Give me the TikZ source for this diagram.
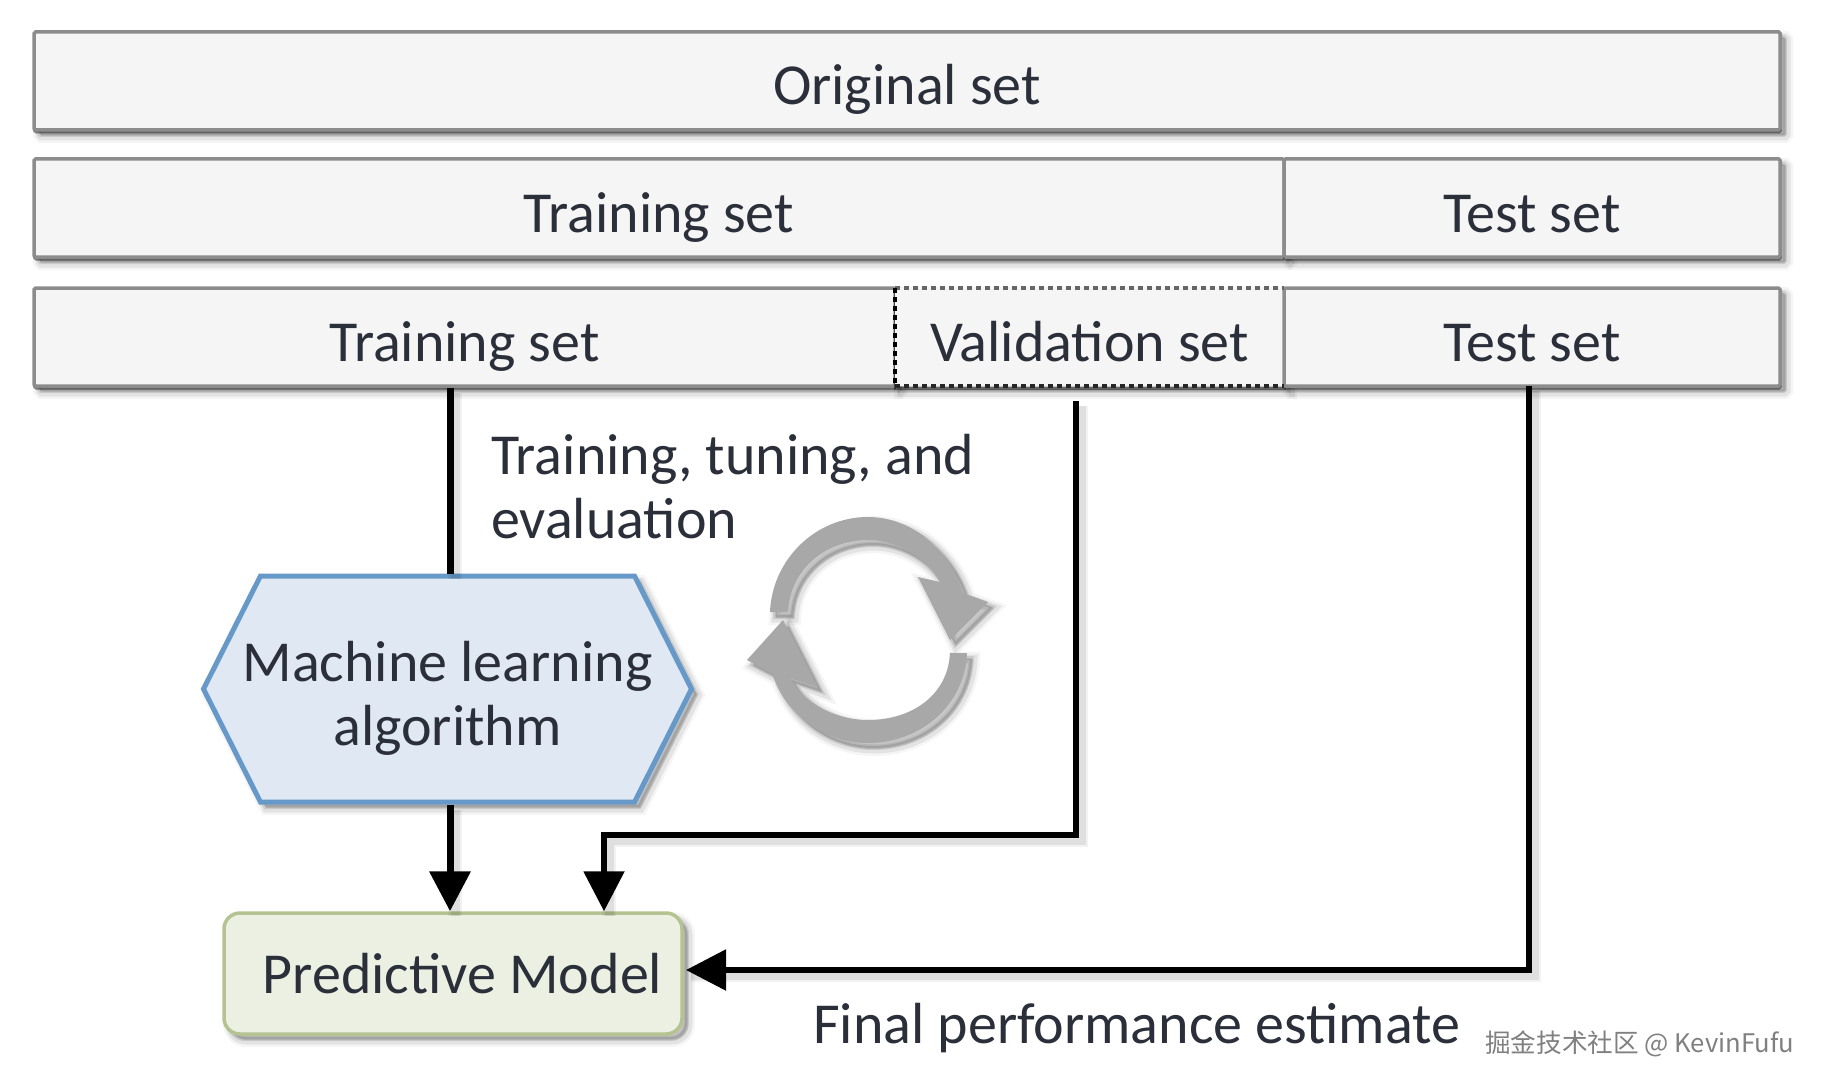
\documentclass[tikz,border=0pt]{standalone}
\usepackage{fontspec}
\setmainfont{Carlito}
\newfontfamily\cjkwm{Noto Sans CJK SC}
\usetikzlibrary{shapes.symbols,arrows.meta}
\definecolor{boxfill}{HTML}{F5F5F5}
\definecolor{boxline}{HTML}{8C8C8C}
\definecolor{txt}{HTML}{2B2F3A}
\definecolor{hexfill}{HTML}{E0E8F3}
\definecolor{hexline}{HTML}{6699C8}
\definecolor{modfill}{HTML}{EBF0E2}
\definecolor{modline}{HTML}{B4C391}
\definecolor{cyc}{HTML}{A8A8A8}
\tikzset{
  x=1pt,y=-1pt,
  softshadow/.style={
    preaction={fill=black,draw=black,opacity=.04,line width=14pt,transform canvas={shift={(6pt,-6pt)}}},
    preaction={fill=black,draw=black,opacity=.07,line width=9pt,transform canvas={shift={(6pt,-6pt)}}},
    preaction={fill=black,draw=black,opacity=.10,line width=4pt,transform canvas={shift={(5pt,-5pt)}}}},
  cellshadow/.style={softshadow,
    preaction={draw=black,opacity=.45,line width=3pt,transform canvas={shift={(.5pt,-2pt)}}}},
  linkshadow/.style={
    preaction={draw=black,opacity=.05,line width=14pt,-,transform canvas={shift={(5pt,-5pt)}}},
    preaction={draw=black,opacity=.08,line width=9pt,-,transform canvas={shift={(5pt,-5pt)}}}},
  cell/.style={rectangle,draw=boxline,fill=boxfill,line width=3.5pt,rounded corners=1.5pt,inner sep=0pt,
    minimum height=98pt,text=txt,font=\fontsize{58}{58}\selectfont,text height=60pt,text depth=12pt},
  hexa/.style={signal,signal to=east and west,signal pointer angle=126.5,draw=hexline,fill=hexfill,line width=5pt,
    inner sep=0pt,minimum width=488pt,minimum height=226pt,text=txt,align=center,
    font=\fontsize{58}{64}\selectfont},
  model/.style={rectangle,rounded corners=16pt,draw=modline,fill=modfill,line width=3.5pt,inner sep=0pt,
    minimum width=458pt,minimum height=121pt,text=txt,font=\fontsize{58}{58}\selectfont,text height=52pt,text depth=12pt},
  plain/.style={inner sep=0pt,text=txt,align=left,font=\fontsize{58}{64}\selectfont},
  link/.style={draw=black,line width=5.5pt,line join=miter},
  thicklink/.style={link,line width=7pt},
  tip/.style={-{Triangle[length=40pt,width=40pt]}},
  dotedge/.style={line width=3.5pt,dash pattern=on 5pt off 4pt},
  cyclearrow/.style={fill=cyc,draw=none}
}
\begin{document}
\begin{tikzpicture}
\useasboundingbox (0,0) rectangle (1822,1086);
\fill[white] (0,0) rectangle (1822,1086);

% row 1
\node[cell,cellshadow,minimum width=1746pt] (orig) at (907,81) {Original set};
% row 2
\node[cell,cellshadow,minimum width=1250pt] (train2) at (659,208) {Training set};
\node[cell,cellshadow,minimum width=496pt] (test2) at (1532,208) {Test set};
% row 3
\node[cell,cellshadow,minimum width=861pt] (train3) at (464.5,337) {Training set};
\node[cell,cellshadow,draw=none,outer sep=0pt,rounded corners=0pt,minimum width=389pt] (valid) at (1089.5,337) {Validation set};
\node[cell,cellshadow,minimum width=496pt] (test3) at (1532,337) {Test set};
\draw[dotedge,draw=black!60] (valid.north west) -- (valid.north east);
\draw[dotedge,draw=black] (valid.north west) -- (valid.south west);
\draw[dotedge,draw=black!85] (valid.south west) -- (valid.south east);

% shapes
\node[hexa,softshadow] (algo) at (447.5,689) {\rule{0pt}{59pt}\makebox[0pt][c]{Machine learning}\\\makebox[0pt][c]{algorithm}};
\node[model,softshadow] (pred) at (453,973.5) {\hspace*{19pt}Predictive Model};

% coordinates of the elbows and free points
\coordinate (vstart) at (1076,401);
\coordinate (vturn) at (1076,835);
\coordinate (vtarget) at (604,835);
\coordinate (tstart) at (1529,386);
\coordinate (tturn) at (1529,970);
\coordinate (pe) at (686,970);

% connectors
\draw[thicklink,linkshadow] (train3.south -| 450,0) -- (algo.north -| 450,0);
\draw[thicklink,tip,linkshadow] (algo.south -| 450,0) -- (pred.north -| 450,0);
\draw[link,tip,linkshadow] (vstart) -- (vturn) -- (vtarget) -- (vtarget |- pred.north);
\draw[link,tip,linkshadow] (tstart) -- (tturn) -- (pe);

% labels
\node[plain,anchor=west] (tte) at (491,487) {Training, tuning, and\\evaluation};
\node[plain,anchor=west] (fpe) at (813,1028) {Final performance estimate};
\node[inner sep=0pt,text=gray,anchor=west,font=\fontsize{25.6}{26}\selectfont\cjkwm] (wm) at (1485,1044) {掘金技术社区 @ KevinFufu};

% cycle arrows
\fill[cyclearrow,softshadow]
  (770,612) .. controls (772,560) and (815,517) .. (868,517)
  .. controls (912,517) and (950,550) .. (963,593)
  -- (988,602) -- (950,640) -- (918,577) -- (940,582)
  .. controls (925,557) and (897,540) .. (868,540)
  .. controls (825,540) and (790,570) .. (788,612) -- cycle;
\fill[cyclearrow,softshadow]
  (967,653) .. controls (965,705) and (921,743) .. (868,743)
  .. controls (825,743) and (785,715) .. (772,673)
  -- (747,660) -- (783,620) -- (817,687) -- (790,678)
  .. controls (805,705) and (838,720) .. (868,720)
  .. controls (912,720) and (948,695) .. (950,653) -- cycle;
\end{tikzpicture}
\end{document}
